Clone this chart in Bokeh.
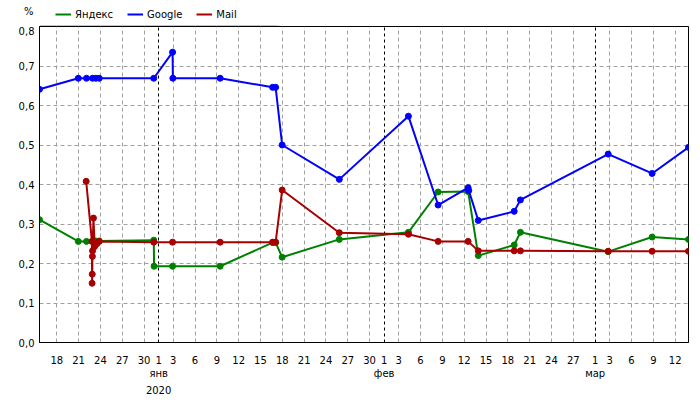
import pandas as pd
from bokeh.plotting import figure
from bokeh.layouts import column
from bokeh.models import (Range1d, FixedTicker, LinearAxis, Grid, Legend, LegendItem,
                          CustomJSTickFormatter, AllLabels)
from bokeh.embed import file_html
from bokeh.resources import INLINE

# ---------------- data ----------------
yandex_dates = ["2019-12-15 15:00", "2019-12-20 23:00", "2019-12-22 02:00", "2019-12-22 22:00",
                "2019-12-23 09:00", "2019-12-23 20:00", "2019-12-31 08:00", "2019-12-31 09:00",
                "2020-01-02 22:00", "2020-01-09 11:00", "2020-01-16 16:00", "2020-01-17 02:00",
                "2020-01-17 23:30", "2020-01-25 20:00", "2020-02-04 08:00", "2020-02-08 10:00",
                "2020-02-12 13:00", "2020-02-13 22:30", "2020-02-18 21:00", "2020-02-19 17:30",
                "2020-03-02 19:00", "2020-03-08 20:00", "2020-03-13 20:00"]
yandex_values = [0.311, 0.256, 0.256, 0.256, 0.257, 0.257, 0.259, 0.193,
                 0.193, 0.193, 0.253, 0.253, 0.216, 0.261, 0.279, 0.381,
                 0.382, 0.220, 0.247, 0.279, 0.230, 0.267, 0.261]

google_dates = ["2019-12-15 15:00", "2019-12-20 23:00", "2019-12-22 02:00", "2019-12-22 22:00",
                "2019-12-23 09:00", "2019-12-23 20:00", "2019-12-31 08:00", "2020-01-02 22:00",
                "2020-01-02 23:00", "2020-01-09 11:00", "2020-01-16 16:00", "2020-01-17 02:00",
                "2020-01-17 23:30", "2020-01-25 20:00", "2020-02-04 08:00", "2020-02-08 10:00",
                "2020-02-12 13:00", "2020-02-12 15:00", "2020-02-13 22:30", "2020-02-18 21:00",
                "2020-02-19 17:30", "2020-03-02 19:00", "2020-03-08 20:00", "2020-03-13 20:00"]
google_values = [0.641, 0.669, 0.669, 0.669, 0.669, 0.669, 0.669, 0.735,
                 0.669, 0.669, 0.646, 0.646, 0.500, 0.413, 0.573, 0.348,
                 0.392, 0.385, 0.309, 0.332, 0.361, 0.477, 0.428, 0.494]

mail_dates = ["2019-12-22 01:00", "2019-12-22 20:00", "2019-12-22 20:30", "2019-12-22 21:00",
              "2019-12-22 21:30", "2019-12-22 22:00", "2019-12-23 01:00", "2019-12-23 05:00",
              "2019-12-23 12:00", "2019-12-23 20:00", "2019-12-31 08:00", "2020-01-02 22:00",
              "2020-01-09 11:00", "2020-01-16 16:00", "2020-01-17 02:00", "2020-01-17 23:30",
              "2020-01-25 20:00", "2020-02-04 08:00", "2020-02-08 10:00", "2020-02-12 13:00",
              "2020-02-13 22:30", "2020-02-18 21:00", "2020-02-19 17:30", "2020-03-02 19:00",
              "2020-03-08 20:00", "2020-03-13 20:00"]
mail_values = [0.408, 0.256, 0.150, 0.173, 0.218, 0.232, 0.315, 0.243,
               0.250, 0.256, 0.254, 0.254, 0.254, 0.254, 0.254, 0.386,
               0.278, 0.274, 0.256, 0.256, 0.232, 0.232, 0.232, 0.231,
               0.231, 0.231]

tick_dates = ["2019-12-18", "2019-12-21", "2019-12-24", "2019-12-27", "2019-12-30",
              "2020-01-01", "2020-01-03", "2020-01-06", "2020-01-09", "2020-01-12",
              "2020-01-15", "2020-01-18", "2020-01-21", "2020-01-24", "2020-01-27",
              "2020-01-30", "2020-02-01", "2020-02-03", "2020-02-06", "2020-02-09",
              "2020-02-12", "2020-02-15", "2020-02-18", "2020-02-21", "2020-02-24",
              "2020-02-27", "2020-03-01", "2020-03-03", "2020-03-06", "2020-03-09",
              "2020-03-12"]
tick_labels = ["18", "21", "24", "27", "30", "1", "3", "6", "9", "12", "15", "18", "21",
               "24", "27", "30", "1", "3", "6", "9", "12", "15", "18", "21", "24", "27",
               "1", "3", "6", "9", "12"]
month_dates = ["2020-01-01", "2020-02-01", "2020-03-01"]
month_labels = ["янв", "фев", "мар"]
year_dates = ["2020-01-01"]
year_labels = ["2020"]
y_ticks = [0.0, 0.1, 0.2, 0.3, 0.4, 0.5, 0.6, 0.7, 0.8]
y_unit = "%"

series_names = ["Яндекс", "Google", "Mail"]
series_colors = ["#008000", "#0000ff", "#a80000"]

# ---------------- helpers ----------------
FONT = "DejaVu Sans"
EPOCH = pd.Timestamp("2020-01-01")
W, HEAD_H, MAIN_H = 700, 26, 374


def to_days(ds):
    return [float(v) for v in (pd.to_datetime(pd.Series(ds)) - EPOCH) / pd.Timedelta(days=1)]


yx, gx, mx = to_days(yandex_dates), to_days(google_dates), to_days(mail_dates)
tick_x = to_days(tick_dates)
month_x = to_days(month_dates)
year_x = to_days(year_dates)
all_x = yx + gx + mx
x_range = Range1d(min(all_x), max(all_x))

# ---------------- header strip: unit label + legend ----------------
# y range in pixels, placed above the data so the key lines stay out of view
head = figure(width=W, height=HEAD_H, output_backend="svg", toolbar_location=None,
              x_range=x_range, y_range=Range1d(1, 1 + HEAD_H),
              x_axis_type=None, y_axis_type=None, min_border=0)
head.outline_line_color = None
head.background_fill_color = "white"
head.border_fill_color = "white"
head.add_layout(LinearAxis(ticker=FixedTicker(ticks=[1 + 15.3]),
                           major_label_overrides={1 + 15.3: y_unit},
                           major_tick_out=0, major_tick_in=0, minor_tick_out=0, minor_tick_in=0,
                           major_tick_line_color=None, minor_tick_line_color=None,
                           axis_line_color=None, major_label_standoff=6,
                           major_label_text_font=FONT, major_label_text_font_size="10px",
                           major_label_text_color="black"), "left")

# ---------------- main plot ----------------
p = figure(width=W, height=MAIN_H, output_backend="svg", toolbar_location=None,
           x_range=x_range, y_range=Range1d(0, 0.8),
           x_axis_type=None, y_axis_type=None,
           min_border_left=39, min_border_right=12, min_border_top=0, min_border_bottom=58)
p.outline_line_color = "black"
p.outline_line_width = 1
p.background_fill_color = "white"
p.border_fill_color = "white"

# grids
minor_x = [t for t in tick_x if t not in month_x]
p.add_layout(Grid(dimension=0, ticker=FixedTicker(ticks=minor_x),
                  grid_line_color="#a0a0a0", grid_line_dash="4 3", grid_line_width=1))
p.add_layout(Grid(dimension=0, ticker=FixedTicker(ticks=month_x),
                  grid_line_color="black", grid_line_dash="3 3", grid_line_width=1))
p.add_layout(Grid(dimension=1, ticker=FixedTicker(ticks=y_ticks[1:-1]),
                  grid_line_color="#a0a0a0", grid_line_dash="4 3", grid_line_width=1))

# y axis
yaxis = LinearAxis(ticker=FixedTicker(ticks=y_ticks),
                   formatter=CustomJSTickFormatter(code="return tick.toFixed(1).replace('.', ',');"),
                   major_tick_out=0, major_tick_in=0, minor_tick_out=0, minor_tick_in=0,
                   major_label_standoff=5, axis_line_color="black",
                   major_label_text_font=FONT, major_label_text_font_size="10px",
                   major_label_text_color="black")
p.add_layout(yaxis, "left")


def make_xaxis(xs, labels, standoff, line_color):
    return LinearAxis(ticker=FixedTicker(ticks=xs),
                      major_label_overrides={x: l for x, l in zip(xs, labels)},
                      major_label_policy=AllLabels(),
                      major_tick_out=0, major_tick_in=0, minor_tick_out=0, minor_tick_in=0,
                      major_tick_line_color=None, minor_tick_line_color=None,
                      major_label_standoff=standoff, axis_line_color=line_color,
                      major_label_text_font=FONT, major_label_text_font_size="10px",
                      major_label_text_color="black")


p.add_layout(make_xaxis(tick_x, tick_labels, 13, "black"), "below")
p.add_layout(make_xaxis(month_x, month_labels, 1, None), "below")
p.add_layout(make_xaxis(year_x, year_labels, 4, None), "below")

# series (drawn in the main plot; the header copies are out of its y range and only feed the key)
items = []
for name, xs, ys, col in zip(series_names, [yx, gx, mx],
                             [yandex_values, google_values, mail_values], series_colors):
    p.line(xs, ys, line_color=col, line_width=2)
    p.scatter(xs, ys, size=6, fill_color=col, line_color=col)
    key = head.line(xs, ys, line_color=col, line_width=2)
    items.append(LegendItem(label=name, renderers=[key]))

legend = Legend(items=items, orientation="horizontal", location=(16, 6),
                padding=0, margin=0, spacing=14, label_standoff=4,
                glyph_width=16, glyph_height=12, label_height=12,
                label_text_font=FONT, label_text_font_size="10px", label_text_color="black",
                border_line_color=None, background_fill_alpha=0)
head.add_layout(legend)

open("out.html", "w").write(file_html(column(head, p, spacing=0), INLINE))
